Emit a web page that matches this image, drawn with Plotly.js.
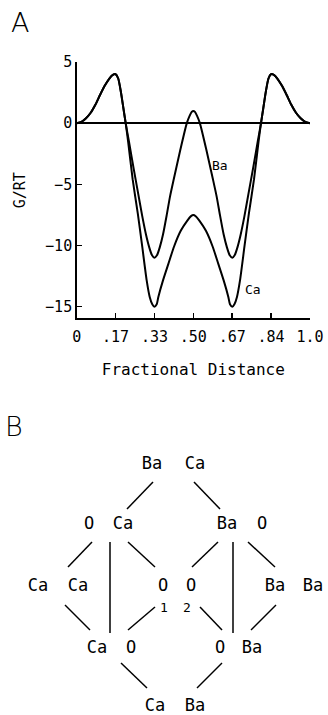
<!DOCTYPE html>
<html>
<head>
<meta charset="utf-8">
<script src="https://cdn.plot.ly/plotly-3.0.1.min.js"></script>
<style>
  html, body { margin: 0; padding: 0; background: #fff; }
  #plot { width: 328px; height: 715px; }
</style>
</head>
<body>
<div id="plot"></div>
<script>
// Panel A: free energy profiles
const baX = [0, 0.02, 0.04, 0.06, 0.08, 0.10, 0.12, 0.14, 0.155, 0.167, 0.178, 0.19, 0.20, 0.21,
  0.224, 0.244, 0.264, 0.281, 0.297, 0.311, 0.323, 0.333, 0.344, 0.356, 0.37, 0.386, 0.40, 0.417,
  0.444, 0.472, 0.484, 0.493, 0.5, 0.507, 0.516, 0.528, 0.556, 0.583, 0.60, 0.614, 0.63, 0.644,
  0.656, 0.667, 0.677, 0.689, 0.703, 0.719, 0.736, 0.756, 0.776, 0.79, 0.80, 0.81, 0.822, 0.833,
  0.845, 0.86, 0.88, 0.90, 0.92, 0.94, 0.96, 0.98, 1.0];
const baY = [0, 0.1, 0.4, 0.85, 1.5, 2.3, 3.05, 3.65, 3.95, 4.0, 3.65, 2.5, 1.25, 0,
  -1.5, -3.7, -5.8, -7.6, -9.1, -10.15, -10.8, -11.0, -10.8, -10.15, -9.1, -7.5, -6.0, -4.5,
  -2.2, 0, 0.6, 0.92, 1.0, 0.92, 0.6, 0, -2.2, -4.5, -6.0, -7.5, -9.1, -10.15,
  -10.8, -11.0, -10.8, -10.15, -9.1, -7.6, -5.8, -3.7, -1.5, 0, 1.25, 2.5, 3.65, 4.0,
  3.95, 3.65, 3.05, 2.3, 1.5, 0.85, 0.4, 0.1, 0];

const caX = [0, 0.02, 0.04, 0.06, 0.08, 0.10, 0.12, 0.14, 0.155, 0.167, 0.178, 0.19, 0.20, 0.21,
  0.2205, 0.24, 0.262, 0.281, 0.30, 0.313, 0.324, 0.333, 0.343, 0.35, 0.37, 0.393, 0.417, 0.446,
  0.475, 0.49, 0.5, 0.51, 0.525, 0.554, 0.583, 0.607, 0.63, 0.65, 0.657, 0.667, 0.676, 0.687,
  0.70, 0.719, 0.738, 0.76, 0.7795, 0.79, 0.80, 0.81, 0.822, 0.833, 0.845, 0.86, 0.88, 0.90,
  0.92, 0.94, 0.96, 0.98, 1.0];
const caY = [0, 0.1, 0.4, 0.85, 1.5, 2.3, 3.05, 3.65, 3.95, 4.0, 3.65, 2.5, 1.25, 0,
  -1.5, -4.6, -7.4, -10.1, -12.85, -14.2, -14.8, -15.0, -14.8, -14.2, -12.85, -11.5, -10.1, -8.8,
  -7.95, -7.6, -7.5, -7.6, -7.95, -8.8, -10.1, -11.5, -12.85, -14.2, -14.8, -15.0, -14.8, -14.2,
  -12.85, -10.1, -7.4, -4.6, -1.5, 0, 1.25, 2.5, 3.65, 4.0, 3.95, 3.65, 3.05, 2.3,
  1.5, 0.85, 0.4, 0.1, 0];

const xTickVals = [0, 0.1667, 0.3333, 0.5, 0.6667, 0.8333, 1.0];
const xTickText = ['0', '.17', '.33', '.50', '.67', '.84', '1.0'];
const yTickVals = [5, 0, -5, -10, -15];

// Panel B: binding-site scheme (diagram units)
const atomText = ['Ba', 'Ca', 'O', 'Ca', 'Ba', 'O', 'Ca', 'Ca', 'O', 'O', 'Ba', 'Ba',
  'Ca', 'O', 'O', 'Ba', 'Ca', 'Ba'];
const atomX = [152, 195, 89, 123, 227, 262, 38, 78, 163, 191, 275, 313, 97, 131, 220, 252, 155, 195];
const atomY = [465, 465, 525, 525, 525, 525, 587, 587, 587, 587, 587, 587, 649, 649, 649, 649, 707, 707];
const subText = ['1', '2'];
const subX = [164, 187];
const subY = [609, 609];

const edgeX0 = [153, 194, 92, 110, 128, 218, 233, 248, 65, 155, 200, 276, 121, 222];
const edgeY0 = [482, 482, 542, 542, 542, 542, 542, 542, 605, 607, 607, 605, 663, 663];
const edgeX1 = [127, 220, 68, 110, 155, 192, 233, 275, 90, 128, 222, 251, 147, 197];
const edgeY1 = [509, 509, 567, 633, 567, 567, 633, 567, 630, 630, 630, 630, 688, 688];

const mono = 'DejaVu Sans Mono, monospace';
const thin = { family: 'DejaVu Sans, sans-serif', size: 27, color: '#000', weight: 200 };

const ex = [], ey = [];
for (let i = 0; i < edgeX0.length; i++) {
  ex.push(edgeX0[i], edgeX1[i], null);
  ey.push(edgeY0[i], edgeY1[i], null);
}

const traces = [
  { x: baX, y: baY, type: 'scatter', mode: 'lines', name: 'Ba',
    line: { color: '#000', width: 2, shape: 'spline', smoothing: 0.6 }, hoverinfo: 'skip' },
  { x: caX, y: caY, type: 'scatter', mode: 'lines', name: 'Ca',
    line: { color: '#000', width: 2, shape: 'spline', smoothing: 0.6 }, hoverinfo: 'skip' },
  { x: ex, y: ey, xaxis: 'x2', yaxis: 'y2', type: 'scatter', mode: 'lines',
    line: { color: '#000', width: 1.5 }, hoverinfo: 'skip' },
  { x: atomX, y: atomY, text: atomText, xaxis: 'x2', yaxis: 'y2', type: 'scatter', mode: 'text',
    textposition: 'middle center', cliponaxis: false,
    textfont: { family: mono, size: 17, color: '#000' }, hoverinfo: 'skip' },
  { x: subX, y: subY, text: subText, xaxis: 'x2', yaxis: 'y2', type: 'scatter', mode: 'text',
    textposition: 'middle center', cliponaxis: false,
    textfont: { family: mono, size: 13, color: '#000' }, hoverinfo: 'skip' }
];

const layout = {
  width: 328,
  height: 715,
  margin: { t: 0, l: 0, r: 0, b: 0 },
  paper_bgcolor: '#fff',
  plot_bgcolor: 'rgba(0,0,0,0)',
  showlegend: false,
  xaxis: {
    domain: [0.2338, 0.9451], range: [0, 1], automargin: false,
    tickvals: xTickVals, ticktext: xTickText,
    ticks: 'inside', ticklen: 5, tickwidth: 1.5, tickcolor: '#000',
    showline: true, linecolor: '#000', linewidth: 1.5,
    showgrid: false, zeroline: false, ticklabelstandoff: 4,
    tickfont: { family: mono, size: 15, color: '#000' },
    title: { text: 'Fractional Distance', font: { family: mono, size: 16, color: '#000' }, standoff: 19 }
  },
  yaxis: {
    domain: [0.5548, 0.9133], range: [-15.95, 5], automargin: false,
    tickvals: yTickVals,
    ticks: 'inside', ticklen: 5, tickwidth: 1.5, tickcolor: '#000',
    showline: true, linecolor: '#000', linewidth: 1.5,
    showgrid: false, zeroline: true, zerolinecolor: '#000', zerolinewidth: 1.5,
    tickfont: { family: mono, size: 15, color: '#000' },
    title: { text: 'G/RT', font: { family: mono, size: 15, color: '#000' }, standoff: 16 }
  },
  xaxis2: { domain: [0, 1], range: [0, 328], visible: false, anchor: 'y2' },
  yaxis2: { domain: [0, 0.4196], range: [715, 415], visible: false, anchor: 'x2' },
  annotations: [
    { text: 'A', xref: 'paper', yref: 'paper', x: 20 / 328, y: 1 - 22 / 715,
      xanchor: 'center', yanchor: 'middle', showarrow: false, font: thin },
    { text: 'B', xref: 'paper', yref: 'paper', x: 14 / 328, y: 1 - 426 / 715,
      xanchor: 'center', yanchor: 'middle', showarrow: false, font: thin },
    { text: 'Ba', xref: 'x', yref: 'y', x: 0.616, y: -3.5, showarrow: false,
      xanchor: 'center', yanchor: 'middle', font: { family: mono, size: 13, color: '#000' } },
    { text: 'Ca', xref: 'x', yref: 'y', x: 0.757, y: -13.6, showarrow: false,
      xanchor: 'center', yanchor: 'middle', font: { family: mono, size: 13, color: '#000' } }
  ]
};

Plotly.newPlot('plot', traces, layout, { displayModeBar: false, staticPlot: true });
</script>
</body>
</html>
